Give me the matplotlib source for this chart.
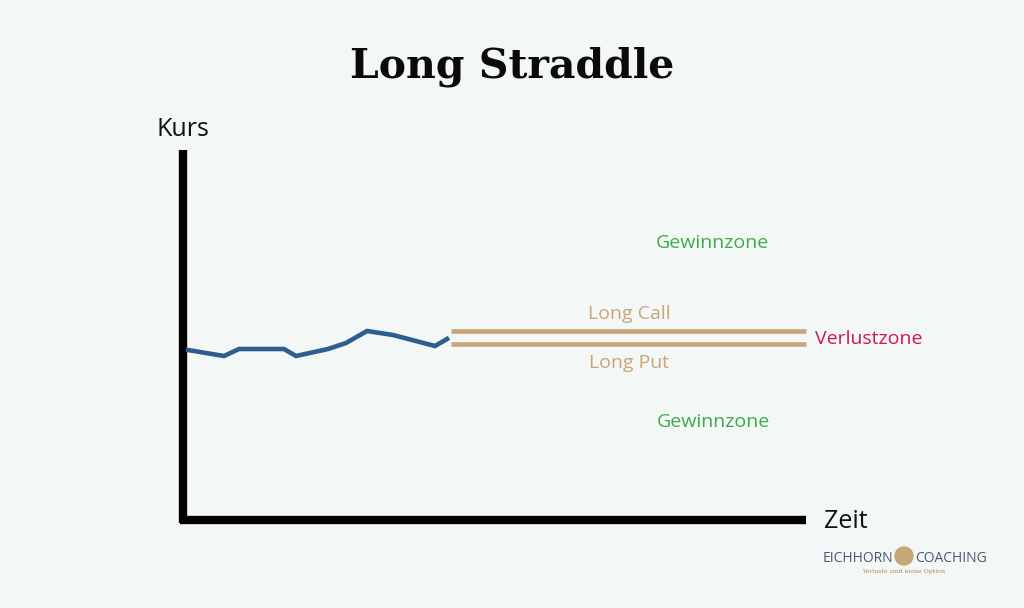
import matplotlib.pyplot as plt
from matplotlib.patches import Circle

# price path (chart units = pixels of the original graphic)
kurs_x = [188, 224, 239, 284, 296, 328, 346, 367, 393, 435, 447]
kurs_y = [350, 356, 349, 349, 356, 349, 343, 331, 335, 346, 339]

# strike lines
call_y = 331
put_y = 344
strike_x = [451, 806]

bg = '#F3F7F6'
tan = '#C9A57A'
blue = '#2C5F8D'
green = '#3DAA4A'
red = '#D0184A'

fig = plt.figure(figsize=(10.24, 6.08), dpi=100, facecolor=bg)
ax = fig.add_axes([0, 0, 1, 1])
ax.set_facecolor(bg)
ax.set_xlim(0, 1024)
ax.set_ylim(608, 0)
ax.axis('off')

# axes of the sketch
ax.plot([183, 183], [150, 523], color='black', lw=6, solid_capstyle='butt')
ax.plot([180, 806], [520, 520], color='black', lw=6, solid_capstyle='butt')

ax.plot(kurs_x, kurs_y, color=blue, lw=3.3, solid_joinstyle='miter')
ax.plot(strike_x, [call_y, call_y], color=tan, lw=3.3, solid_capstyle='butt')
ax.plot(strike_x, [put_y, put_y], color=tan, lw=3.3, solid_capstyle='butt')

ax.text(512, 67, 'Long Straddle', ha='center', va='center', fontsize=29.5,
        fontweight='bold', family='DejaVu Serif', color='#0A0A0A')
ax.text(183, 130, 'Kurs', ha='center', va='center', fontsize=18, family='Open Sans', color='#111111')
ax.text(846, 521, 'Zeit', ha='center', va='center', fontsize=18, family='Open Sans', color='#111111')
ax.text(712, 243, 'Gewinnzone', ha='center', va='center', fontsize=14, family='Open Sans', color=green)
ax.text(713, 422, 'Gewinnzone', ha='center', va='center', fontsize=14, family='Open Sans', color=green)
ax.text(629, 314, 'Long Call', ha='center', va='center', fontsize=14, family='Open Sans', color=tan)
ax.text(629, 363, 'Long Put', ha='center', va='center', fontsize=14, family='Open Sans', color=tan)
ax.text(869, 339, 'Verlustzone', ha='center', va='center', fontsize=14, family='Open Sans', color=red)

# logo
ax.text(893, 559, 'EICHHORN', ha='right', va='center', fontsize=10, family='Open Sans', color='#4A5A70')
ax.text(915, 559, 'COACHING', ha='left', va='center', fontsize=10, family='Open Sans', color='#4A5A70')
ax.add_patch(Circle((904, 556), 9, color=tan))
ax.text(904, 572, 'Verluste sind keine Option', ha='center', va='center', fontsize=4.5,
        family='DejaVu Serif', color='#A88A60')

fig.savefig('out.png', dpi=100, facecolor=bg)
